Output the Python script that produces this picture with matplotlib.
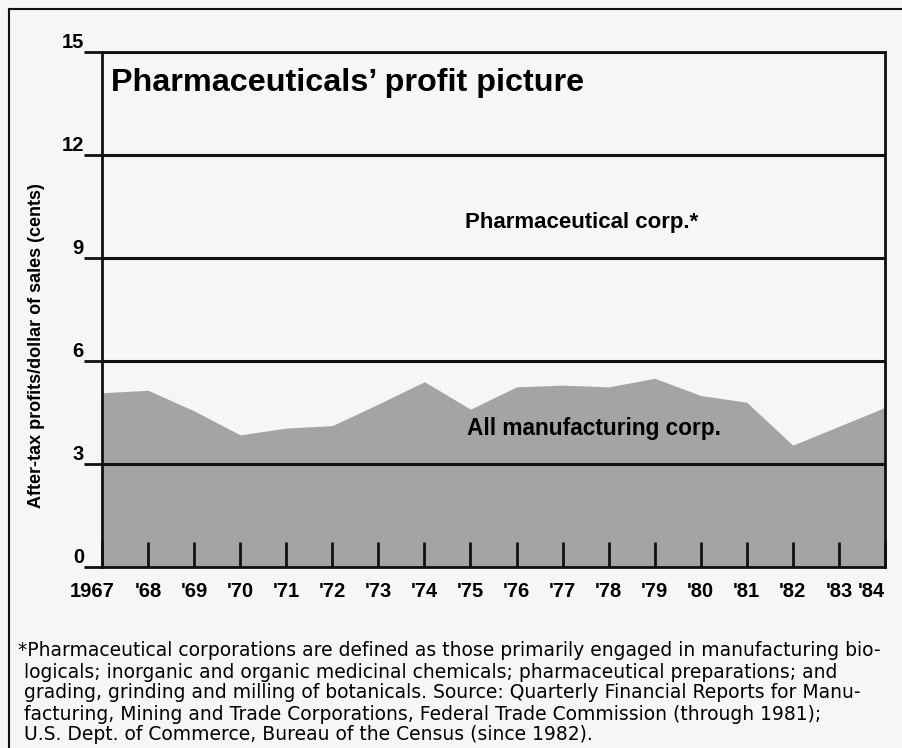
import matplotlib
matplotlib.use("Agg")
import matplotlib.pyplot as plt
import matplotlib.transforms as mtransforms
from matplotlib.lines import Line2D

# after-tax profits per dollar of sales (cents)
years = [1967, 1968, 1969, 1970, 1971, 1972, 1973, 1974, 1975,
         1976, 1977, 1978, 1979, 1980, 1981, 1982, 1983, 1984]
all_mfg = [5.08, 5.15, 4.55, 3.85, 4.05, 4.12, 4.75, 5.40, 4.60,
           5.25, 5.30, 5.25, 5.50, 5.00, 4.80, 3.55, 4.10, 4.65]
year_labels = ["1967", "'68", "'69", "'70", "'71", "'72", "'73", "'74", "'75",
               "'76", "'77", "'78", "'79", "'80", "'81", "'82", "'83", "'84"]
y_ticks = [0, 3, 6, 9, 12, 15]

footnote = [
    "*Pharmaceutical corporations are defined as those primarily engaged in manufacturing bio-",
    " logicals; inorganic and organic medicinal chemicals; pharmaceutical preparations; and",
    " grading, grinding and milling of botanicals. Source: Quarterly Financial Reports for Manu-",
    " facturing, Mining and Trade Corporations, Federal Trade Commission (through 1981);",
    " U.S. Dept. of Commerce, Bureau of the Census (since 1982).",
]

plt.rcParams['font.family'] = ['Liberation Sans', 'DejaVu Sans']
bg = '#f6f6f6'

fig = plt.figure(figsize=(9.03, 7.48), dpi=100, facecolor=bg)
ax = fig.add_axes([0.113, 0.242, 0.867, 0.688])
ax.set_facecolor(bg)

ax.fill_between(years, 0, all_mfg, color='#a4a4a4', lw=0, zorder=1)

ax.set_xlim(1967, 1984)
ax.set_ylim(0, 15)

for v in y_ticks[1:]:
    ax.axhline(v, color='#111111', lw=2.2, zorder=3)

ax.set_yticks(y_ticks)
ax.set_yticklabels([str(v) for v in y_ticks], fontsize=14.5, fontweight='bold')
for lab in ax.get_yticklabels():
    lab.set_verticalalignment('bottom')
ax.tick_params(axis='y', direction='out', length=13, width=2, pad=0, color='#111111')

ax.set_xticks(years)
ax.set_xticklabels(year_labels, fontsize=14.5, fontweight='bold')
ax.tick_params(axis='x', direction='in', length=18, width=2, pad=11, color='#111111')
xl = ax.get_xticklabels()
xl[0].set_transform(xl[0].get_transform() +
                    mtransforms.ScaledTranslation(-0.10, 0, fig.dpi_scale_trans))
xl[-1].set_horizontalalignment('right')

for s in ['left', 'right', 'bottom', 'top']:
    ax.spines[s].set_linewidth(2)
    ax.spines[s].set_color('#111111')
    ax.spines[s].set_zorder(4)

ax.set_ylabel("After-tax profits/dollar of sales (cents)", fontsize=13,
              fontweight='bold')
ax.yaxis.set_label_coords(-0.073, 0.43)

ax.text(1967.2, 14.1, "Pharmaceuticals\u2019 profit picture", fontsize=23.3,
        fontweight='bold', va='center', ha='left', zorder=5)
ax.text(1974.88, 10.05, "Pharmaceutical corp.*", fontsize=16,
        fontweight='bold', va='center', ha='left', zorder=5)
ax.text(1974.92, 4.05, "All manufacturing corp.", fontsize=16.3,
        fontweight='bold', va='center', ha='left', zorder=5)

# outer frame (left and top edges visible)
fig.add_artist(Line2D([0.010, 0.010], [0, 0.988], color='#111111', lw=1.5))
fig.add_artist(Line2D([0.010, 1.0], [0.988, 0.988], color='#111111', lw=1.5))

y0 = 1 - 651 / 748
for i, line in enumerate(footnote):
    fig.text(0.020, y0 - i * 21 / 748, line, fontsize=13.5, va='center', ha='left',
             family=['DejaVu Sans'])

fig.savefig("out.png", dpi=100, facecolor=bg)
